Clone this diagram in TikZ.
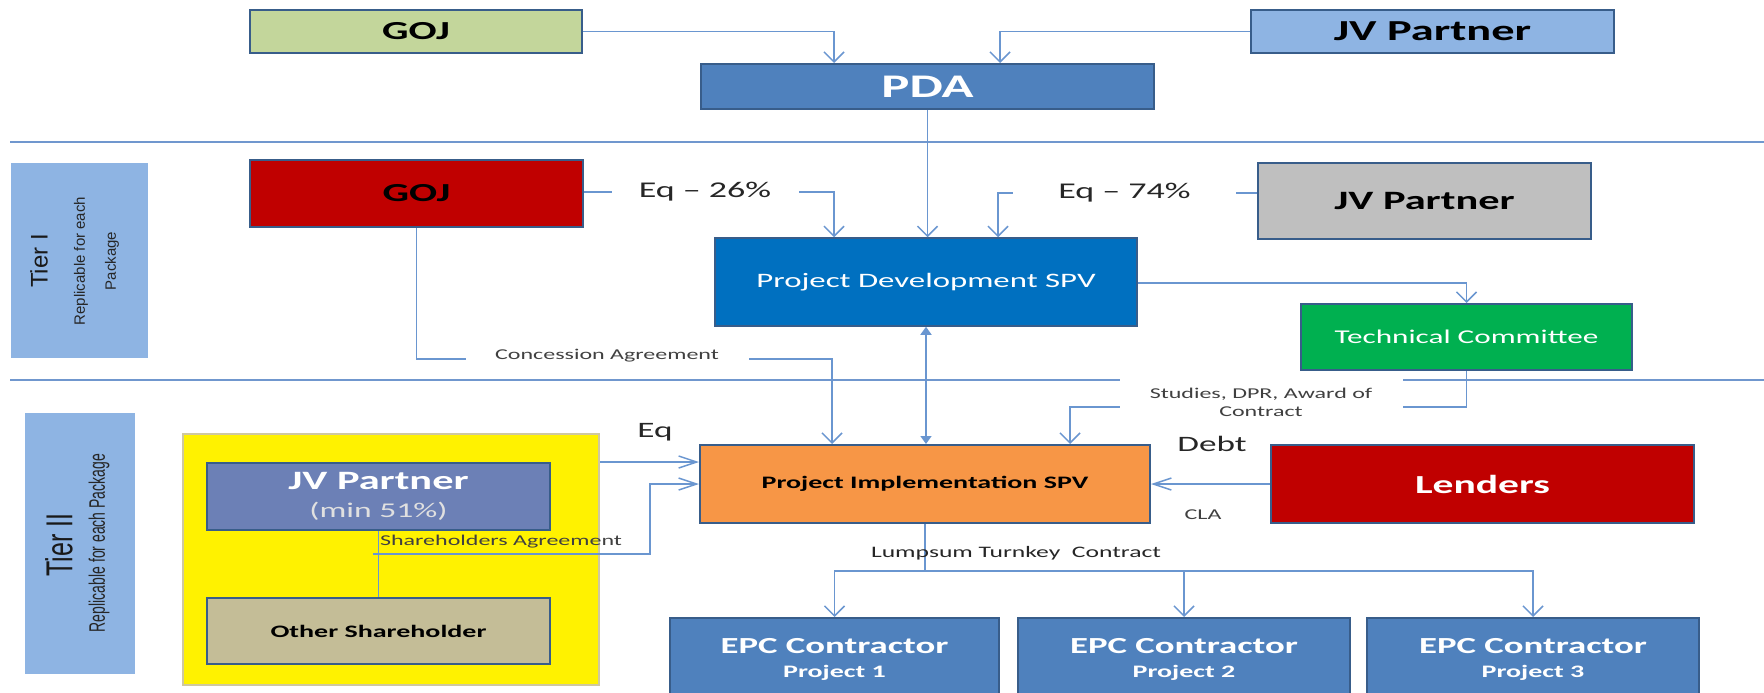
\documentclass[tikz,border=0pt]{standalone}
\usepackage{fontspec}
\usepackage{graphicx}
\setmainfont{Carlito}[FakeStretch=1.6]
\newfontfamily\tierfont{Liberation Sans}
\usetikzlibrary{arrows.meta,calc}
\definecolor{gojgreen}{HTML}{C3D69B}
\definecolor{jvblue}{HTML}{8EB4E3}
\definecolor{pdablue}{HTML}{4F81BD}
\definecolor{darkred}{HTML}{C00000}
\definecolor{jvgray}{HTML}{BFBFBF}
\definecolor{spvblue}{HTML}{0070C0}
\definecolor{tcgreen}{HTML}{00B050}
\definecolor{implorange}{HTML}{F79646}
\definecolor{tan}{HTML}{C4BD97}
\definecolor{jvslate}{HTML}{6C80B6}
\definecolor{bordc}{HTML}{385D8A}
\definecolor{connc}{HTML}{6A96D0}
\definecolor{divc}{HTML}{7097CE}
\definecolor{txtgray}{HTML}{404040}
\definecolor{ytan}{HTML}{CFC89F}
\newcommand\fsz[2]{\fontsize{#1pt}{#2pt}\selectfont}
\tikzset{
  box/.style={draw=bordc, line width=2pt, inner sep=0pt, align=center},
  conn/.style={draw=connc, line width=1.5pt},
  divider/.style={draw=divc, line width=2pt},
  va/.style={-{Straight Barb[length=10pt,width=20pt]}},
  ha/.style={-{Straight Barb[length=18pt,width=12pt]}},
  dbl/.style={{Triangle[length=8pt,width=11pt]}-{Triangle[length=8pt,width=11pt]}},
  lbl/.style={inner sep=0pt, align=center},
  wlbl/.style={lbl, fill=white},
}
\begin{document}
\begin{tikzpicture}[x=1pt,y=-1pt]
\useasboundingbox (0,0) rectangle (1764,693);
% dividers
\coordinate (d1a) at (10,142); \coordinate (d1b) at (1764,142);
\coordinate (d2a) at (10,380); \coordinate (d2b) at (1764,380);
\draw[divider] (d1a) -- (d1b);
\draw[divider] (d2a) -- (d2b);
% tier boxes
\node[fill=jvblue, minimum width=137pt, minimum height=195pt, inner sep=0pt] (tier1) at (79.5,260.5) {};
\node[fill=jvblue, minimum width=110pt, minimum height=261pt, inner sep=0pt] (tier2) at (80,543.5) {};
\node[rotate=90, lbl, font=\tierfont\fsz{24}{28}, text=black!90] (t1a) at (39,261) {Tier I};
\node[rotate=90, lbl, font=\tierfont\fsz{15}{18}, text=black!85] (t1b) at (81,261) {Replicable for each};
\node[rotate=90, lbl, font=\tierfont\fsz{15}{18}, text=black!85] (t1c) at (112,261) {Package};
\node[lbl, text=black!90] (t2a) at (59,545) {\scalebox{1.5}[1]{\rotatebox{90}{\tierfont\fsz{25}{28}Tier II}}};
\node[lbl, text=black!85] (t2b) at (99,543) {\scalebox{1.6}[1]{\rotatebox{90}{\tierfont\fsz{14}{16}Replicable for each Package}}};
% top
\node[box, fill=gojgreen, minimum width=332pt, minimum height=43pt, font=\bfseries\fsz{26}{30}] (goj1) at (416,31.5) {GOJ};
\node[box, fill=jvblue, minimum width=363pt, minimum height=43pt, font=\bfseries\fsz{29}{32}] (jv1) at (1432.5,31.5) {JV Partner};
\node[box, fill=pdablue, minimum width=453pt, minimum height=45pt, font=\bfseries\fsz{33}{36}, text=white] (pda) at (927.5,86.5) {PDA};
% tier I
\node[box, fill=darkred, minimum width=333pt, minimum height=67pt, font=\bfseries\fsz{26}{30}] (goj2) at (416.5,193.5) {GOJ};
\node[box, fill=jvgray, minimum width=333pt, minimum height=76pt, font=\bfseries\fsz{26.5}{30}] (jv2) at (1424.5,201) {JV Partner};
\node[box, fill=spvblue, line width=1.5pt, minimum width=422pt, minimum height=88pt, font=\fsz{20.5}{24}, text=white] (pdspv) at (926,282) {Project Development SPV};
\node[box, fill=tcgreen, minimum width=331pt, minimum height=66pt, font=\fsz{19.5}{24}, text=white] (tc) at (1466.5,337) {Technical Committee};
% tier II
\node[draw=ytan, line width=2pt, fill=yellow, minimum width=416pt, minimum height=251pt, inner sep=0pt] (yel) at (391,559.5) {};
\node[box, fill=jvslate, minimum width=343pt, minimum height=67pt, font=\bfseries\fsz{26.5}{28}, text=white] (jv3) at (378.5,496.5) {JV Partner\\{\mdseries\fsz{21}{28}\color{white!88!black}(min 51\%)}};
\node[box, fill=tan, minimum width=343pt, minimum height=66pt, font=\bfseries\fsz{17.5}{20}] (other) at (378.5,631) {Other Shareholder};
\node[box, fill=implorange, minimum width=450pt, minimum height=78pt, font=\bfseries\fsz{17.5}{20}] (pispv) at (925,484) {Project Implementation SPV};
\node[box, fill=darkred, minimum width=423pt, minimum height=78pt, font=\bfseries\fsz{26}{30}, text=white] (lenders) at (1482.5,484) {Lenders};
\node[box, fill=pdablue, minimum width=329pt, minimum height=82pt, font=\bfseries\fsz{23}{24}, text=white] (epc1) at (834.5,659) {EPC Contractor\\{\fsz{17.5}{24}Project 1}};
\node[box, fill=pdablue, minimum width=332pt, minimum height=82pt, font=\bfseries\fsz{23}{24}, text=white] (epc2) at (1184,659) {EPC Contractor\\{\fsz{17.5}{24}Project 2}};
\node[box, fill=pdablue, minimum width=332pt, minimum height=82pt, font=\bfseries\fsz{23}{24}, text=white] (epc3) at (1533,659) {EPC Contractor\\{\fsz{17.5}{24}Project 3}};
% connectors top
\draw[conn, va] (goj1.east) -| ([xshift=-93.5pt]pda.north);
\draw[conn, va] (jv1.west) -| ([xshift=72.5pt]pda.north);
\draw[conn, va] (pda.south) -- (pda.south |- pdspv.north);
% tier I connectors
\draw[conn, va] ([yshift=1.5pt]goj2.east) -| ([xshift=-92pt]pdspv.north);
\draw[conn, va] ([yshift=8pt]jv2.west) -| ([xshift=72pt]pdspv.north);
\draw[conn, va] ([yshift=-1pt]pdspv.east) -| (tc.north);
\draw[conn, dbl] (pdspv.south) -- (pdspv.south |- pispv.north);
\coordinate (ca) at (832,359);
\draw[conn, va] (goj2.south) |- (ca) -- (ca |- pispv.north);
\coordinate (sa) at (1070,407);
\draw[conn, va] (tc.south) |- (sa) -- (sa |- pispv.north);
% tier II connectors
\draw[conn] (jv3.south) -- (other.north);
\coordinate (sh) at (373,554);
\coordinate (shb) at (650,554);
\draw[conn, ha] (sh) -- (shb) |- (pispv.west);
\draw[conn, ha] ([yshift=-29pt]yel.north east) -- ([yshift=-29pt]yel.north east -| pispv.west);
\draw[conn, ha] (lenders.west) -- (pispv.east);
\coordinate (lt) at (925,571);
\draw[conn, va] (pispv.south) -- (lt) -| (epc1.north);
\draw[conn, va] (lt) -| (epc2.north);
\draw[conn, va] (lt) -| (epc3.north);
% labels
\node[wlbl, minimum width=187pt, minimum height=26pt, font=\fsz{22.5}{26}, text=black!85] (eq26) at (705,192) {Eq -- 26\%};
\node[wlbl, minimum width=223pt, minimum height=26pt, font=\fsz{22.5}{26}, text=black!85] (eq74) at (1124.5,193) {Eq -- 74\%};
\node[wlbl, minimum width=283pt, minimum height=20pt, font=\fsz{15}{18}, text=txtgray] (conc) at (607,356) {Concession Agreement};
\node[wlbl, minimum width=283pt, minimum height=48pt, font=\fsz{15}{18}, text=txtgray] (studies) at (1261,402) {Studies, DPR, Award of\\Contract};
\node[lbl, font=\fsz{22}{26}, text=black!85] (eqlbl) at (655,432) {Eq};
\node[lbl, font=\fsz{22}{26}, text=black!85] (debt) at (1212,444) {Debt};
\node[lbl, font=\fsz{15}{18}, text=txtgray] (cla) at (1203,515) {CLA};
\node[lbl, font=\fsz{15}{18}, text=black!75] (shag) at (501,542) {Shareholders Agreement};
\node[lbl, font=\fsz{16}{19}, text=black!85] (lump) at (1016,553) {Lumpsum Turnkey\ \ Contract};
\end{tikzpicture}
\end{document}
